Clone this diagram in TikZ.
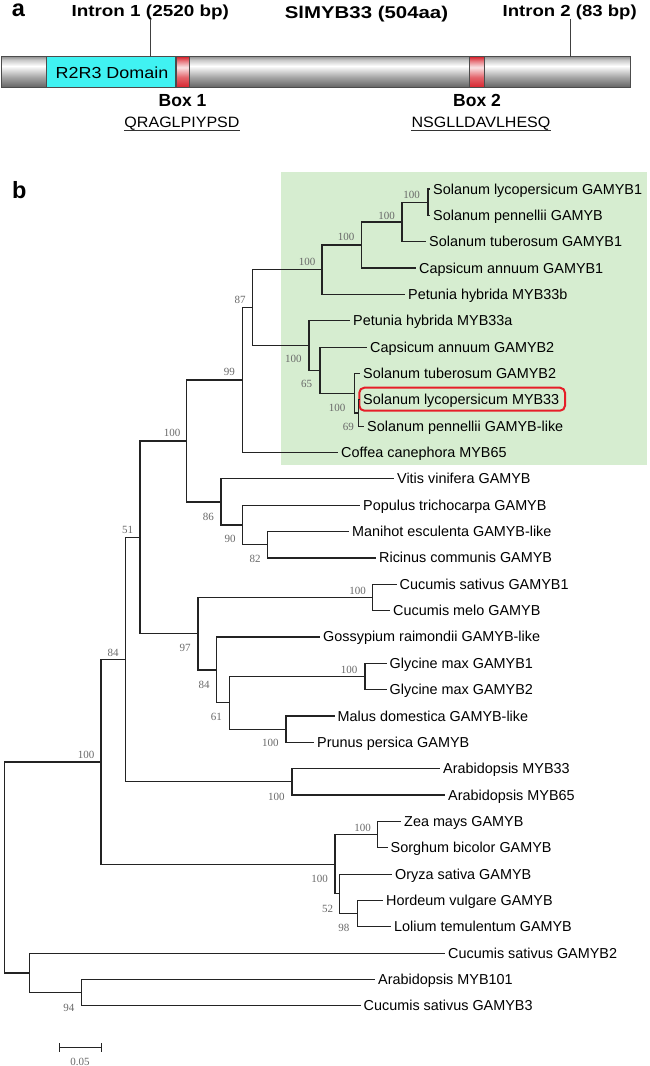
\documentclass[tikz,border=0pt]{standalone}
\usepackage{fontspec}
\setmainfont{Liberation Sans}
\newfontfamily\bsfont{Liberation Serif}
\usepackage{graphicx}
\definecolor{grn}{RGB}{214,237,208}
\definecolor{boxred}{RGB}{230,30,40}
\definecolor{branch}{RGB}{35,35,35}
\definecolor{bsgray}{RGB}{105,105,105}
\definecolor{cyanbox}{RGB}{64,242,242}
\definecolor{redd}{RGB}{215,35,45}
\pgfdeclareverticalshading{cyl}{100bp}{color(0bp)=(black!62); color(25bp)=(black!62); color(42bp)=(black!35); color(60bp)=(white); color(70bp)=(black!22); color(75bp)=(black!42); color(100bp)=(black!42)}
\pgfdeclareverticalshading{redcyl}{100bp}{color(0bp)=(redd); color(25bp)=(redd); color(42bp)=(redd!70!white); color(58bp)=(redd!12!white); color(68bp)=(redd!60!white); color(75bp)=(redd); color(100bp)=(redd)}
\tikzset{
 leaf/.style={anchor=west, inner xsep=3pt, inner ysep=0pt, text height=10pt, text depth=0pt, font=\fontsize{14.4}{16}\selectfont},
 bs/.style={inner sep=0pt, font=\bsfont\fontsize{11}{12}\selectfont, text=bsgray},
 br/.style={draw=branch, line width=1.2pt},
 panel/.style={anchor=base, inner sep=0pt, font=\bfseries\fontsize{23.5}{26}\selectfont},
 head/.style={anchor=base, inner sep=0pt, font=\bfseries\fontsize{16}{18}\selectfont},
 seq/.style={anchor=base, inner sep=0pt, font=\fontsize{15}{17}\selectfont},
 barline/.style={draw=black!70, line width=0.8pt},
}
\begin{document}
\begin{tikzpicture}[x=1pt,y=-1pt]
\useasboundingbox (0,0) rectangle (650,1066);

% ---------------- panel a ----------------
\node[panel] (pa) at (18.3,16.7) {a};
\node[head] (in1) at (150.2,16) {\scalebox{1.18}[1]{Intron 1 (2520 bp)}};
\node[head, font=\bfseries\fontsize{17}{19}\selectfont] (title) at (366.5,18) {\scalebox{1.2}[1]{SlMYB33 (504aa)}};
\node[head] (in2) at (569.7,16) {\scalebox{1.16}[1]{Intron 2 (83 bp)}};

\shade[shading=cyl] (1.7,56.7) rectangle (630.7,87.7);
\fill[cyanbox] (46,56.7) rectangle (175.7,87.7);
\draw[barline] (46,56.7) -- (46,87.7) (175.7,56.7) -- (175.7,87.7);
\shade[shading=redcyl] (176.7,56.7) rectangle (189.3,87.7);
\draw[barline] (176.7,56.7) -- (176.7,87.7) (189.3,56.7) -- (189.3,87.7);
\shade[shading=redcyl] (469.3,56.7) rectangle (484.3,87.7);
\draw[barline] (469.3,56.7) -- (469.3,87.7) (484.3,56.7) -- (484.3,87.7);
\draw[barline] (1.7,56.7) rectangle (630.7,87.7);
\node[anchor=base, inner sep=0pt, font=\fontsize{16}{18}\selectfont] (dom) at (112,78.3) {\scalebox{1.12}[1]{R2R3 Domain}};
\coordinate (i1) at (150.7,56.7);
\coordinate (i2) at (570,56.7);
\draw[draw=black!75, line width=0.8pt] (i1) -- (150.7,19);
\draw[draw=black!75, line width=0.8pt] (i2) -- (570,19);

\node[head, font=\bfseries\fontsize{17.5}{19}\selectfont] (b1) at (182.5,106) {Box 1};
\node[head, font=\bfseries\fontsize{17.5}{19}\selectfont] (b2) at (477,106) {Box 2};
\node[seq] (s1) at (182,127.3) {\scalebox{1.07}[1]{QRAGLPIYPSD}};
\node[seq] (s2) at (481,127.3) {\scalebox{1.07}[1]{NSGLLDAVLHESQ}};
\draw[line width=0.9pt, black!80] ([yshift=-3.2pt]s1.base west) -- ([yshift=-3.2pt]s1.base east);
\draw[line width=0.9pt, black!80] ([yshift=-3.2pt]s2.base west) -- ([yshift=-3.2pt]s2.base east);

% ---------------- panel b ----------------
\node[panel] (pb) at (19.3,198.3) {b};
\fill[grn] (281,172.3) rectangle (646.7,465);

\foreach \i/\t/\tx in {
 0/430/Solanum lycopersicum GAMYB1,
 1/430/Solanum pennellii GAMYB,
 2/426/Solanum tuberosum GAMYB1,
 3/416/Capsicum annuum GAMYB1,
 4/405/Petunia hybrida MYB33b,
 5/350/Petunia hybrida MYB33a,
 6/367/Capsicum annuum GAMYB2,
 7/360/Solanum tuberosum GAMYB2,
 8/360/Solanum lycopersicum MYB33,
 9/364/Solanum pennellii GAMYB-like,
 10/338/Coffea canephora MYB65,
 11/394/Vitis vinifera GAMYB,
 12/360/Populus trichocarpa GAMYB,
 13/349/Manihot esculenta GAMYB-like,
 14/376/Ricinus communis GAMYB,
 15/396.5/Cucumis sativus GAMYB1,
 16/390/Cucumis melo GAMYB,
 17/320/Gossypium raimondii GAMYB-like,
 18/386.5/Glycine max GAMYB1,
 19/386.5/Glycine max GAMYB2,
 20/334.5/Malus domestica GAMYB-like,
 21/314/Prunus persica GAMYB,
 22/440/Arabidopsis MYB33,
 23/445/Arabidopsis MYB65,
 24/401/Zea mays GAMYB,
 25/387.5/Sorghum bicolor GAMYB,
 26/392/Oryza sativa GAMYB,
 27/383/Hordeum vulgare GAMYB,
 28/391/Lolium temulentum GAMYB,
 29/445/Cucumis sativus GAMYB2,
 30/375/Arabidopsis MYB101,
 31/360.5/Cucumis sativus GAMYB3}
 {\node[leaf] (L\i) at (\t,{189+26.35*\i}) {\tx};}

% highlight box
\draw[boxred, line width=2pt, rounded corners=5pt] (359.3,387.7) rectangle (565,410.7);

% internal nodes
\coordinate (N1) at (428,202.18);
\coordinate (N2) at (402,221.94);
\coordinate (N3) at (361.7,245.0);
\coordinate (N4) at (322,269.7);
\coordinate (Z) at (358.3,412.98);
\coordinate (Y) at (354.3,393.2);
\coordinate (X) at (320,370.15);
\coordinate (N5) at (309,345.45);
\coordinate (N6) at (252.3,307.6);
\coordinate (N7) at (242.3,380.05);
\coordinate (N11) at (267.7,544.73);
\coordinate (N10) at (242.3,524.96);
\coordinate (N9) at (221,501.9);
\coordinate (N8) at (186.7,440.98);
\coordinate (Ncuc) at (372.7,597.43);
\coordinate (Ngly) at (365,676.48);
\coordinate (Npr) at (286,729.18);
\coordinate (N16) at (229.3,702.83);
\coordinate (N15) at (216.7,669.89);
\coordinate (N13) at (198,633.66);
\coordinate (N12) at (140,537.32);
\coordinate (Narab) at (292,781.88);
\coordinate (N18) at (125.7,659.6);
\coordinate (Nzea) at (377.3,834.58);
\coordinate (Nhl) at (357.3,913.63);
\coordinate (Noz) at (339.3,893.86);
\coordinate (Nmono) at (335,864.22);
\coordinate (N19) at (101,761.91);
\coordinate (N94) at (81.7,992.68);
\coordinate (Nout) at (29.3,972.91);
\coordinate (R) at (4.3,867.41);

% branches
\path[br]
 (N1) |- (L0.west)  (N1) |- (L1.west)
 (N2) |- (N1)       (N2) |- (L2.west)
 (N3) |- (N2)       (N3) |- (L3.west)
 (N4) |- (N3)       (N4) |- (L4.west)
 (Z) |- (L8.west)   (Z) |- (L9.west)
 (Y) |- (L7.west)   (Y) |- (Z)
 (X) |- (L6.west)   (X) |- (Y)
 (N5) |- (L5.west)  (N5) |- (X)
 (N6) |- (N4)       (N6) |- (N5)
 (N7) |- (N6)       (N7) |- (L10.west)
 (N11) |- (L13.west) (N11) |- (L14.west)
 (N10) |- (L12.west) (N10) |- (N11)
 (N9) |- (L11.west)  (N9) |- (N10)
 (N8) |- (N7)       (N8) |- (N9)
 (Ncuc) |- (L15.west) (Ncuc) |- (L16.west)
 (Ngly) |- (L18.west) (Ngly) |- (L19.west)
 (Npr) |- (L20.west)  (Npr) |- (L21.west)
 (N16) |- (Ngly)    (N16) |- (Npr)
 (N15) |- (L17.west) (N15) |- (N16)
 (N13) |- (Ncuc)    (N13) |- (N15)
 (N12) |- (N8)      (N12) |- (N13)
 (Narab) |- (L22.west) (Narab) |- (L23.west)
 (N18) |- (N12)     (N18) |- (Narab)
 (Nzea) |- (L24.west) (Nzea) |- (L25.west)
 (Nhl) |- (L27.west)  (Nhl) |- (L28.west)
 (Noz) |- (L26.west)  (Noz) |- (Nhl)
 (Nmono) |- (Nzea)  (Nmono) |- (Noz)
 (N19) |- (N18)     (N19) |- (Nmono)
 (N94) |- (L30.west) (N94) |- (L31.west)
 (Nout) |- (L29.west) (Nout) |- (N94)
 (R) |- (N19)       (R) |- (Nout);

% bootstrap values
\node[bs] (b_1) at (411.7,195) {100};
\node[bs] (b_2) at (386.7,215.7) {100};
\node[bs] (b_3) at (346,237.3) {100};
\node[bs] (b_4) at (307,261.7) {100};
\node[bs] (b_5) at (240,300) {87};
\node[bs] (b_6) at (293.3,359.3) {100};
\node[bs] (b_7) at (306.7,384) {65};
\node[bs] (b_8) at (337,408.3) {100};
\node[bs] (b_9) at (348.3,426.7) {69};
\node[bs] (b_10) at (229.3,372.3) {99};
\node[bs] (b_11) at (172,433.3) {100};
\node[bs] (b_12) at (208.3,516.7) {86};
\node[bs] (b_13) at (230,539.3) {90};
\node[bs] (b_14) at (255,559.3) {82};
\node[bs] (b_15) at (127.5,530) {51};
\node[bs] (b_16) at (185,648.3) {97};
\node[bs] (b_17) at (204.2,685) {84};
\node[bs] (b_18) at (216.3,717.3) {61};
\node[bs] (b_19) at (270.3,743.3) {100};
\node[bs] (b_20) at (113,652.7) {84};
\node[bs] (b_21) at (86.2,755) {100};
\node[bs] (b_22) at (357.5,590.7) {100};
\node[bs] (b_23) at (349.2,670) {100};
\node[bs] (b_24) at (276.3,796.7) {100};
\node[bs] (b_25) at (319.5,879.3) {100};
\node[bs] (b_26) at (362.5,827.7) {100};
\node[bs] (b_27) at (327.5,909) {52};
\node[bs] (b_28) at (343.8,928.3) {98};
\node[bs] (b_29) at (68.8,1008.3) {94};

% scale bar
\draw[br] (59.3,1047.7) -- (101.7,1047.7);
\draw[br] (59.3,1043.3) -- (59.3,1052.1);
\draw[br] (101.7,1043.3) -- (101.7,1052.1);
\node[bs] (scale) at (80,1061.7) {0.05};
\end{tikzpicture}
\end{document}
